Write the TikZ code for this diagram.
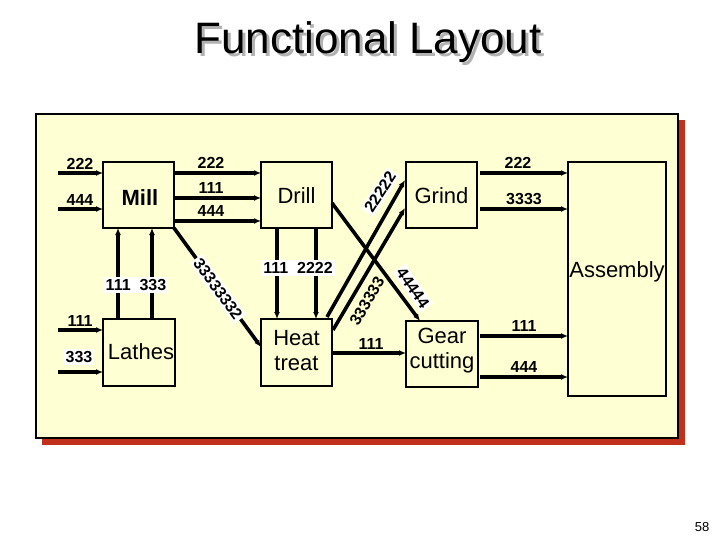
\documentclass[tikz,border=0pt]{standalone}
\usepackage{fontspec}
\setmainfont{Liberation Sans}
\usetikzlibrary{arrows.meta}
\begin{document}
\begin{tikzpicture}[x=1pt,y=-1pt,
  box/.style={draw,line width=1.3pt,fill=panel,inner sep=0pt},
  flow/.style={line width=3.6pt,-{Latex[length=7pt,width=6pt]}},
  lab/.style={font=\bfseries\fontsize{16}{16}\selectfont,inner sep=1pt},
  wlab/.style={lab,fill=white,inner sep=2pt},
  bname/.style={font=\fontsize{22}{25}\selectfont,align=center}]
\definecolor{panel}{HTML}{FFFFD4}
\definecolor{shad}{HTML}{C0301A}
\useasboundingbox (0,0) rectangle (720,540);
\fill[white] (0,0) rectangle (720,540);
% title
\node[font=\fontsize{44}{44}\selectfont,text=gray!60] at (371,45) {Functional Layout};
\node[font=\fontsize{44}{44}\selectfont] (title) at (368,42) {Functional Layout};
% panel
\fill[shad] (42,120) rectangle (685,445);
\draw[line width=1.3pt,fill=panel] (36,114) rectangle (678,438);
% boxes
\node[box,minimum width=71pt,minimum height=66pt] (mill) at (138.5,195) {};
\node[bname,font=\bfseries\fontsize{22}{25}\selectfont] at (140,198) {Mill};
\node[box,minimum width=71pt,minimum height=66pt] (drill) at (296.5,195) {};
\node[bname] at (296.5,196) {Drill};
\node[box,minimum width=72pt,minimum height=67pt] (lathes) at (139,352.5) {};
\node[bname] at (141,352) {Lathes};
\node[box,minimum width=71pt,minimum height=67pt] (heat) at (296.5,352.5) {};
\node[bname] at (296.5,351) {Heat\\treat};
\node[box,minimum width=71pt,minimum height=66pt] (grind) at (441.5,195) {};
\node[bname] at (441.5,196) {Grind};
\node[box,minimum width=72pt,minimum height=66pt] (gear) at (442,354) {};
\node[bname] at (442,351) {Gear\\cutting};
\node[box,minimum width=98pt,minimum height=234pt] (asm) at (617,279) {};
\node[bname] at (617,272) {Assembly};
% coordinates
\coordinate (a1) at (58,173); \coordinate (a2) at (58,209);
\coordinate (a3) at (58,330); \coordinate (a4) at (58,372);
% inputs to mill
\draw[flow] (a1) -- (103,173); \node[lab,anchor=south] at (80,171) {222};
\draw[flow] (a2) -- (103,209); \node[lab,anchor=south] at (80,207) {444};
% inputs to lathes
\draw[flow] (a3) -- (103,330); \node[lab,anchor=south] at (80,328) {111};
\draw[flow] (a4) -- (103,372); \node[wlab] at (79,357) {333};
% mill -> drill
\draw[flow] (174,173) -- (261,173); \node[lab,anchor=south] at (211,170) {222};
\draw[flow] (174,198) -- (261,198); \node[lab,anchor=south] at (211,195) {111};
\draw[flow] (174,221) -- (261,221); \node[lab,anchor=south] at (211,218) {444};
% lathes -> mill
\draw[flow] (118,319) -- (118,228);
\draw[flow] (152,319) -- (152,228);
\node[wlab] at (136,285) {111\ \ 333};
% mill -> heat
\draw[flow] (174,228) -- (261,347);
\node[wlab,rotate=-54] at (218,289) {33333332};
% drill -> heat
\draw[flow] (277,228) -- (277,319);
\draw[flow] (316,228) -- (316,319);
\node[wlab] at (298,268) {111\ \ 2222};
% drill -> gear
\draw[flow] (332,203) -- (420,321);
\node[wlab,rotate=-55] at (413,288) {44444};
% heat -> grind
\draw[flow] (327,317) -- (405,180);
\draw[flow] (333,330) -- (405,208);
\node[wlab,rotate=57] at (380,192) {22222};
\node[lab,rotate=60] at (367,301) {333333};
% heat -> gear
\draw[flow] (332,353) -- (406,353); \node[lab,anchor=south] at (371,351) {111};
% grind -> asm
\draw[flow] (480,173) -- (568,173); \node[lab,anchor=south] at (518,170) {222};
\draw[flow] (480,209) -- (568,209); \node[lab,anchor=south] at (524,206) {3333};
% gear -> asm
\draw[flow] (480,336) -- (568,336); \node[lab,anchor=south] at (524,333) {111};
\draw[flow] (480,377) -- (568,377); \node[lab,anchor=south] at (524,374) {444};
\node[font=\fontsize{13}{13}\selectfont] at (702,527) {58};
\end{tikzpicture}
\end{document}
